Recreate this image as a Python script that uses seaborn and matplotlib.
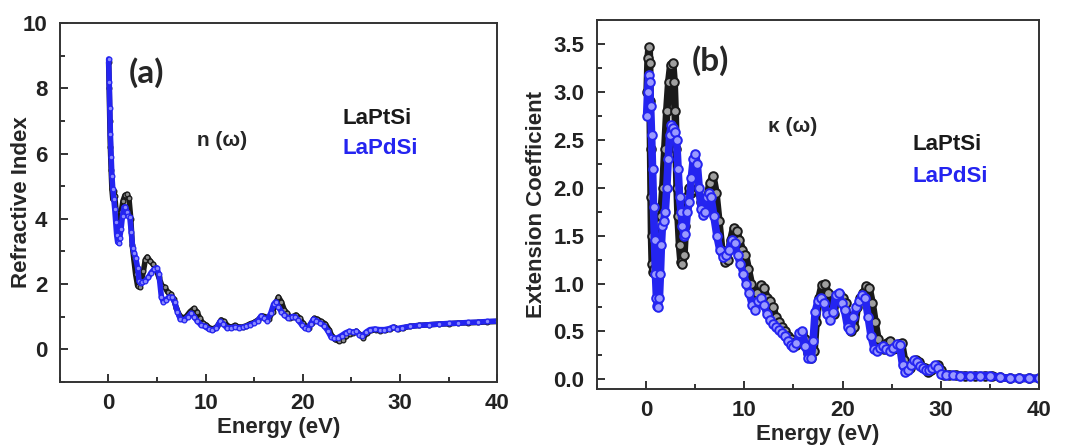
#Refractive index and extinction coefficient of LaPtSi / LaPdSi

import numpy as np
import matplotlib
matplotlib.use("Agg")
import matplotlib.pyplot as plt
from matplotlib.ticker import MultipleLocator, FormatStrFormatter
import seaborn as sns

#Values
#(a) refractive index n(w)
e_n_pt = [0.02, 0.08, 0.14, 0.2, 0.28, 0.36, 0.45, 0.55, 0.65, 0.8, 0.95, 1.1, 1.3, 1.5, 1.7, 1.9,
          2.1, 2.3, 2.45, 2.6, 2.8, 3.0, 3.2, 3.4, 3.6, 3.8, 4.0, 4.3, 4.6, 4.9, 5.2, 5.5, 5.8,
          6.1, 6.4, 6.7, 7.0, 7.3, 7.6, 8.0, 8.4, 8.8, 9.1, 9.4, 9.7, 10.0, 10.4, 10.8, 11.2,
          11.6, 11.9, 12.3, 12.7, 13.0, 13.4, 13.8, 14.2, 14.6, 15.0, 15.4, 15.8, 16.1, 16.5,
          16.9, 17.2, 17.5, 17.8, 18.1, 18.4, 18.7, 19.0, 19.3, 19.7, 20.0, 20.3, 20.6, 20.9,
          21.2, 21.5, 21.9, 22.3, 22.7, 23.0, 23.3, 23.7, 24.1, 24.5, 24.9, 25.2, 25.5, 25.9,
          26.2, 26.6, 27.0, 27.5, 28.0, 28.5, 29.0, 29.4, 29.8, 30.3, 31.0, 32.0, 33.0, 34.0,
          35.0, 36.0, 37.0, 38.0, 39.0, 40.0]
n_pt = [8.8, 8.0, 7.0, 6.2, 5.5, 4.9, 4.6, 4.85, 4.7, 4.2, 3.9, 3.85, 4.2, 4.55, 4.72, 4.75,
        4.65, 4.0, 3.2, 2.8, 2.3, 1.95, 1.9, 2.1, 2.4, 2.75, 2.83, 2.7, 2.6, 2.45, 2.2, 1.95, 1.9,
        1.75, 1.7, 1.55, 1.25, 1.05, 0.95, 1.0, 1.15, 1.25, 1.15, 0.95, 0.8, 0.75, 0.65, 0.62, 0.7,
        0.9, 0.85, 0.7, 0.68, 0.73, 0.68, 0.68, 0.72, 0.78, 0.82, 0.9, 1.02, 1.0, 0.92,
        1.15, 1.4, 1.6, 1.45, 1.2, 1.1, 0.95, 1.0, 1.05, 0.95, 0.8, 0.7, 0.65, 0.8,
        0.95, 0.92, 0.85, 0.78, 0.6, 0.4, 0.3, 0.25, 0.28, 0.42, 0.48, 0.5, 0.55, 0.45,
        0.35, 0.5, 0.58, 0.6, 0.57, 0.58, 0.62, 0.67, 0.62, 0.65, 0.7, 0.73, 0.75, 0.77,
        0.78, 0.8, 0.81, 0.82, 0.84, 0.85]

e_n_pd = [0.02, 0.08, 0.14, 0.2, 0.28, 0.36, 0.45, 0.55, 0.65, 0.75, 0.85, 0.95, 1.05, 1.15, 1.3,
          1.45, 1.6, 1.75, 1.9, 2.05, 2.2, 2.35, 2.5, 2.65, 2.8, 3.0, 3.15, 3.3, 3.5, 3.8, 4.1,
          4.4, 4.7, 4.95, 5.2, 5.45, 5.65, 5.9, 6.2, 6.5, 6.8, 7.1, 7.4, 7.8, 8.2, 8.5, 8.8,
          9.1, 9.5, 9.9, 10.3, 10.7, 11.1, 11.5, 11.8, 12.2, 12.6, 13.0, 13.4, 13.8, 14.2,
          14.6, 15.0, 15.4, 15.7, 16.0, 16.3, 16.7, 17.0, 17.2, 17.5, 17.8, 18.1, 18.5, 18.9,
          19.2, 19.5, 19.9, 20.2, 20.5, 20.8, 21.1, 21.4, 21.8, 22.2, 22.6, 22.9, 23.2, 23.6,
          24.0, 24.4, 24.8, 25.2, 25.5, 25.8, 26.1, 26.5, 26.9, 27.4, 27.9, 28.4, 28.9, 29.3,
          29.7, 30.2, 31.0, 32.0, 33.0, 34.0, 35.0, 36.0, 37.0, 38.0, 39.0, 40.0]
n_pd = [8.9, 8.2, 7.4, 6.6, 5.9, 5.3, 4.9, 4.6, 4.3, 3.9, 3.5, 3.28, 3.26, 3.4, 3.7,
        4.1, 4.35, 4.37, 4.2, 4.1, 4.05, 3.6, 3.1, 2.95, 2.8, 2.5, 2.1, 2.02, 2.05, 2.1, 2.2,
        2.35, 2.45, 2.5, 2.3, 1.6, 1.45, 1.5, 1.6, 1.6, 1.45, 1.15, 0.92, 0.9, 1.0, 1.1, 1.0,
        0.88, 0.75, 0.7, 0.62, 0.58, 0.65, 0.85, 0.78, 0.65, 0.66, 0.68, 0.66, 0.67, 0.7,
        0.75, 0.8, 0.88, 1.02, 0.95, 0.88, 1.1, 1.38, 1.45, 1.3, 1.15, 1.05, 0.95, 1.0,
        1.0, 0.9, 0.75, 0.65, 0.62, 0.78, 0.92, 0.88, 0.8, 0.72, 0.55, 0.38, 0.33, 0.35,
        0.42, 0.5, 0.55, 0.52, 0.55, 0.45, 0.4, 0.52, 0.6, 0.62, 0.6, 0.6, 0.63, 0.68,
        0.63, 0.66, 0.7, 0.73, 0.75, 0.77, 0.79, 0.8, 0.82, 0.83, 0.85, 0.86]

#(b) extinction coefficient k(w)
e_k_pt = [0.1, 0.2, 0.3, 0.35, 0.4, 0.45, 0.5, 0.55, 0.62, 0.7, 0.8, 0.95, 1.1, 1.3, 1.5, 1.7,
          1.9, 2.1, 2.3, 2.5, 2.7, 2.85, 2.95, 3.05, 3.15, 3.25, 3.4, 3.55, 3.7, 3.85, 4.0, 4.2,
          4.4, 4.6, 4.8, 5.0, 5.3, 5.6, 5.9, 6.2, 6.5, 6.8, 7.1, 7.4, 7.7, 8.0, 8.3, 8.6, 8.9,
          9.2, 9.5, 9.8, 10.1, 10.4, 10.7, 11.0, 11.3, 11.7, 12.0, 12.3, 12.6, 12.9, 13.2, 13.5,
          13.8, 14.1, 14.4, 14.7, 15.0, 15.3, 15.6, 15.9, 16.2, 16.5, 16.8, 17.1, 17.3, 17.6,
          17.9, 18.2, 18.5, 18.8, 19.1, 19.4, 19.7, 20.0, 20.3, 20.6, 20.9, 21.2, 21.5, 21.8,
          22.1, 22.4, 22.7, 23.0, 23.3, 23.6, 23.9, 24.2, 24.5, 24.8, 25.1, 25.4, 25.7, 26.0,
          26.3, 26.6, 26.9, 27.2, 27.5, 27.8, 28.1, 28.4, 28.7, 29.0, 29.4, 29.7, 30.0, 30.3,
          30.8, 31.5, 32.5, 33.5, 34.5, 35.2, 36.0, 37.0, 38.0, 39.0, 40.0]
k_pt = [3.0, 3.35, 3.47, 3.3, 2.9, 2.4, 1.9, 1.5, 1.2, 1.12, 1.15, 1.3, 1.5, 1.62, 1.7, 2.0,
        2.4, 2.8, 3.1, 3.28, 3.3, 3.1, 2.8, 2.4, 2.0, 1.7, 1.4, 1.22, 1.2, 1.3, 1.6, 1.9,
        2.0, 1.95, 1.98, 2.05, 2.0, 1.85, 1.8, 1.9, 2.05, 2.12, 1.95, 1.65, 1.35, 1.22, 1.25, 1.45, 1.58,
        1.55, 1.45, 1.35, 1.3, 1.15, 1.0, 0.85, 0.9, 0.98, 0.95, 0.85, 0.82, 0.75, 0.65, 0.6,
        0.55, 0.5, 0.45, 0.42, 0.38, 0.36, 0.4, 0.48, 0.42, 0.28, 0.22, 0.3, 0.6, 0.85,
        0.98, 1.0, 0.9, 0.72, 0.68, 0.85, 0.88, 0.85, 0.8, 0.6, 0.5, 0.55, 0.75, 0.85,
        0.9, 0.97, 0.95, 0.8, 0.6, 0.42, 0.33, 0.32, 0.38, 0.4, 0.32, 0.33, 0.37, 0.38,
        0.2, 0.1, 0.12, 0.18, 0.2, 0.18, 0.13, 0.12, 0.08, 0.1, 0.13, 0.15, 0.1, 0.05,
        0.05, 0.05, 0.04, 0.04, 0.04, 0.04, 0.02, 0.01, 0.01, 0.01, 0.01]

e_k_pd = [0.05, 0.15, 0.25, 0.35, 0.45, 0.55, 0.65, 0.75, 0.85, 0.95, 1.05, 1.15, 1.25, 1.35, 1.45,
          1.55, 1.65, 1.8, 1.95, 2.1, 2.25, 2.4, 2.55, 2.75, 2.95, 3.1, 3.25, 3.4, 3.55, 3.7,
          3.85, 4.0, 4.2, 4.4, 4.6, 4.8, 5.0, 5.2, 5.4, 5.6, 5.8, 6.0, 6.2, 6.4, 6.6, 6.9, 7.2,
          7.5, 7.8, 8.1, 8.4, 8.7, 9.0, 9.3, 9.6, 9.9, 10.2, 10.5, 10.8, 11.1, 11.4, 11.7, 12.0,
          12.3, 12.6, 12.9, 13.2, 13.5, 13.8, 14.1, 14.4, 14.7, 15.0, 15.3, 15.6, 15.9, 16.2,
          16.5, 16.8, 17.0, 17.2, 17.5, 17.8, 18.1, 18.4, 18.7, 19.0, 19.3, 19.6, 19.9, 20.2,
          20.5, 20.8, 21.1, 21.4, 21.7, 22.0, 22.3, 22.6, 22.9, 23.2, 23.5, 23.8, 24.1, 24.4,
          24.8, 25.1, 25.5, 25.8, 26.1, 26.4, 26.7, 27.0, 27.3, 27.6, 27.9, 28.2, 28.5, 28.8,
          29.1, 29.4, 29.7, 30.0, 30.5, 31.2, 32.0, 33.0, 34.0, 35.0, 36.0, 37.0, 38.0, 39.0, 40.0]
k_pd = [2.75, 3.0, 3.18, 3.1, 2.85, 2.55, 2.2, 1.8, 1.45, 1.1, 0.85, 0.77, 0.76, 0.85, 1.1,
        1.4, 1.6, 1.65, 1.75, 2.0, 2.3, 2.55, 2.65, 2.62, 2.58, 2.5, 2.2, 1.9, 1.75, 1.6,
        1.5, 1.52, 1.75, 1.85, 2.1, 2.3, 2.35, 2.25, 2.0, 1.78, 1.72, 1.75, 1.9, 1.95, 1.9, 1.7, 1.5,
        1.35, 1.28, 1.3, 1.35, 1.45, 1.42, 1.3, 1.2, 1.1, 1.0, 0.9, 0.78, 0.72, 0.82, 0.85, 0.78,
        0.68, 0.62, 0.58, 0.55, 0.52, 0.48, 0.45, 0.4, 0.36, 0.34, 0.38, 0.48, 0.5, 0.35,
        0.22, 0.22, 0.4, 0.7, 0.82, 0.85, 0.8, 0.68, 0.62, 0.7, 0.88, 0.9, 0.8, 0.72,
        0.55, 0.52, 0.65, 0.75, 0.82, 0.88, 0.85, 0.65, 0.45, 0.32, 0.3, 0.33, 0.35, 0.32,
        0.3, 0.33, 0.37, 0.36, 0.15, 0.08, 0.1, 0.15, 0.2, 0.18, 0.14, 0.12, 0.1, 0.1,
        0.12, 0.15, 0.12, 0.06, 0.05, 0.05, 0.04, 0.04, 0.04, 0.04, 0.02, 0.01, 0.01, 0.01, 0.01]

black = '#1a1a1a'
blue = '#2424f0'

sns.set_style("ticks")
plt.rcParams['font.family'] = ['Liberation Sans', 'DejaVu Sans']
plt.rcParams['font.weight'] = 'bold'
plt.rcParams['axes.labelweight'] = 'bold'

fig = plt.figure(figsize=(10.69, 4.45), dpi=100)
ax1 = fig.add_axes([0.056, 0.142, 0.409, 0.806])
ax2 = fig.add_axes([0.5585, 0.126, 0.4135, 0.829])


def draw(ax, x, y, color, face, lw, ms, mew):
    sns.lineplot(x=x, y=y, ax=ax, color=color, linewidth=lw, sort=False,
                 estimator=None, marker='o', markersize=ms, markerfacecolor=face,
                 markeredgecolor=color, markeredgewidth=mew)


draw(ax1, e_n_pt, n_pt, black, '#8c8c8c', 4.0, 3.4, 0.9)
draw(ax1, e_n_pd, n_pd, blue, '#8a8aff', 4.0, 3.4, 0.9)
draw(ax2, e_k_pt, k_pt, black, '#a0a0a0', 5.5, 6.2, 1.4)
draw(ax2, e_k_pd, k_pd, blue, '#9a9aff', 5.5, 6.2, 1.4)

#Axes styling
for ax in (ax1, ax2):
    ax.set_xlim(-5, 40)
    ax.xaxis.set_major_locator(MultipleLocator(10))
    ax.xaxis.set_minor_locator(MultipleLocator(5))
    ax.tick_params(which='both', direction='in', labelsize=16, width=1.3, colors='#222222')
    ax.tick_params(which='major', length=6)
    ax.tick_params(which='minor', length=3.5)
    ax.tick_params(axis='y', which='major', pad=9)
    ax.tick_params(axis='x', which='major', pad=8)
    for s in ax.spines.values():
        s.set_visible(True)
        s.set_linewidth(1.4)
        s.set_color('#333333')
    for lab in ax.get_xticklabels() + ax.get_yticklabels():
        lab.set_fontweight('bold')
    ax.set_xlabel('Energy (eV)', fontsize=16, fontweight='bold', labelpad=2)

ax1.set_ylim(-1, 10)
ax1.yaxis.set_major_locator(MultipleLocator(2))
ax1.yaxis.set_minor_locator(MultipleLocator(1))
ax1.set_ylabel('Refractive Index', fontsize=16, fontweight='bold')
ax1.yaxis.set_label_coords(-0.064, 0.5)

ax2.set_ylim(-0.1, 3.75)
ax2.yaxis.set_major_locator(MultipleLocator(0.5))
ax2.yaxis.set_minor_locator(MultipleLocator(0.25))
ax2.yaxis.set_major_formatter(FormatStrFormatter('%.1f'))
ax2.set_ylabel('Extension Coefficient', fontsize=16, fontweight='bold')
ax2.yaxis.set_label_coords(-0.113, 0.5)

#Annotations
fig.text(129 / 1069, 1 - 73 / 445, '(a)', fontsize=24, fontweight='bold',
         family=['Lato', 'DejaVu Sans'], va='center', ha='left')
fig.text(197 / 1069, 1 - 140 / 445, 'n (\u03c9)', fontsize=15, fontweight='bold',
         va='center', ha='left')
fig.text(342 / 1069, 1 - 118 / 445, 'LaPtSi', fontsize=16, fontweight='bold', color=black,
         va='center', ha='left')
fig.text(342 / 1069, 1 - 148 / 445, 'LaPdSi', fontsize=16, fontweight='bold', color=blue,
         va='center', ha='left')

fig.text(692 / 1069, 1 - 61 / 445, '(b)', fontsize=24, fontweight='bold',
         family=['Lato', 'DejaVu Sans'], va='center', ha='left')
fig.text(768 / 1069, 1 - 127 / 445, '\u03ba (\u03c9)', fontsize=15, fontweight='bold',
         va='center', ha='left')
fig.text(912 / 1069, 1 - 145 / 445, 'LaPtSi', fontsize=16, fontweight='bold', color=black,
         va='center', ha='left')
fig.text(912 / 1069, 1 - 176 / 445, 'LaPdSi', fontsize=16, fontweight='bold', color=blue,
         va='center', ha='left')

fig.savefig('out.png', dpi=100)
